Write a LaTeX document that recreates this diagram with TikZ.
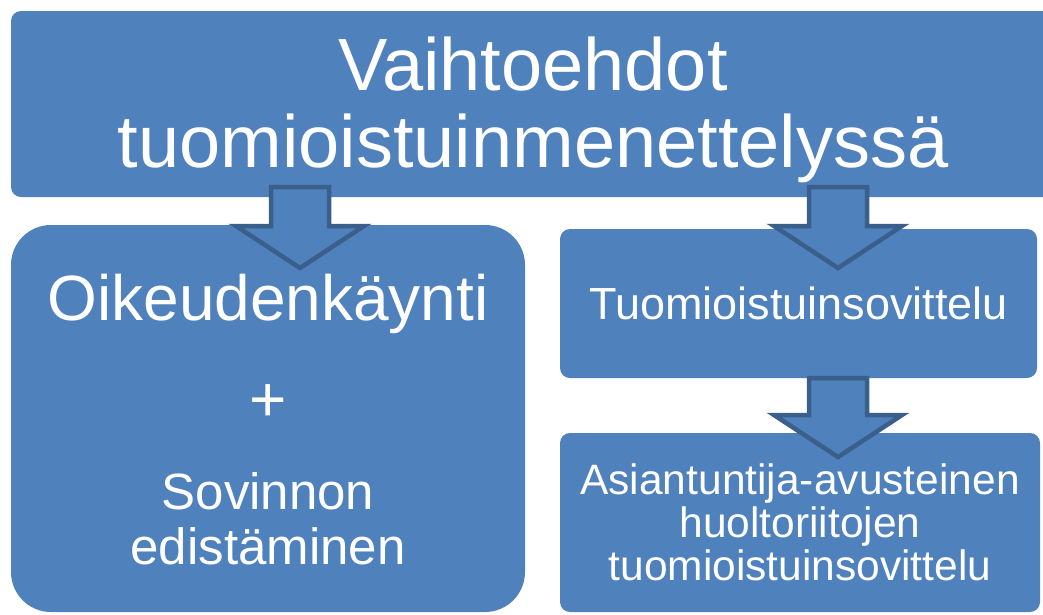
\documentclass[tikz,border=0pt]{standalone}
\usepackage{fontspec}
\setmainfont{Liberation Sans}
\usetikzlibrary{positioning}
\definecolor{boxblue}{HTML}{4F81BD}
\definecolor{arrowline}{HTML}{3A5F8B}
\tikzset{
  bluebox/.style={fill=boxblue,text=white,align=center,inner sep=0pt},
  bigarrow/.style={fill=boxblue,draw=arrowline,line width=4.5pt,line join=miter}
}

\begin{document}
\begin{tikzpicture}[x=1pt,y=-1pt]
\useasboundingbox (0,0) rectangle (1043,614);
\clip (0,0) rectangle (1043,614);
%top box
\node[bluebox,rounded corners=10pt,minimum width=1049pt,minimum height=186pt] (title) at (535.5,104) {};
\node[text=white,align=center,inner sep=0pt,
  font={\fontsize{74}{77}\selectfont}] (titletext) at (533,110)
  {Vaihtoehdot\\ tuomioistuinmenettelyssä};
%left box
\node[bluebox,rounded corners=40pt,minimum width=514pt,minimum height=387pt] (trial) at (268,418.5) {};
\node[text=white,align=center,inner sep=0pt,anchor=north,
  font={\fontsize{51}{55}\selectfont}] (trialtext) at (268,274)
  {\fontsize{64}{55}\selectfont Oikeudenkäynti\\[46pt]
   \fontsize{64}{55}\selectfont +\\[33pt]
   Sovinnon\\ edistäminen};
%right boxes
\node[bluebox,rounded corners=10pt,minimum width=477pt,minimum height=149pt,
  font={\fontsize{45}{48}\selectfont}] (mediation) at (798.5,303.5)
  {Tuomioistuinsovittelu};
\node[bluebox,rounded corners=10pt,minimum width=480pt,minimum height=179pt,
  font={\fontsize{42.5}{43}\selectfont}] (expert) at (800,522.5)
  {Asiantuntija-avusteinen\\ huoltoriitojen\\ tuomioistuinsovittelu};
%block arrows
\foreach \ax/\ay/\by in {300/187/268, 838/187/268, 838/378/457}
  \draw[bigarrow] (\ax-29,\ay) -- (\ax+29,\ay) -- (\ax+29,\by-42) -- (\ax+64,\by-42)
    -- (\ax,\by) -- (\ax-64,\by-42) -- (\ax-29,\by-42) -- cycle;
\end{tikzpicture}
\end{document}
